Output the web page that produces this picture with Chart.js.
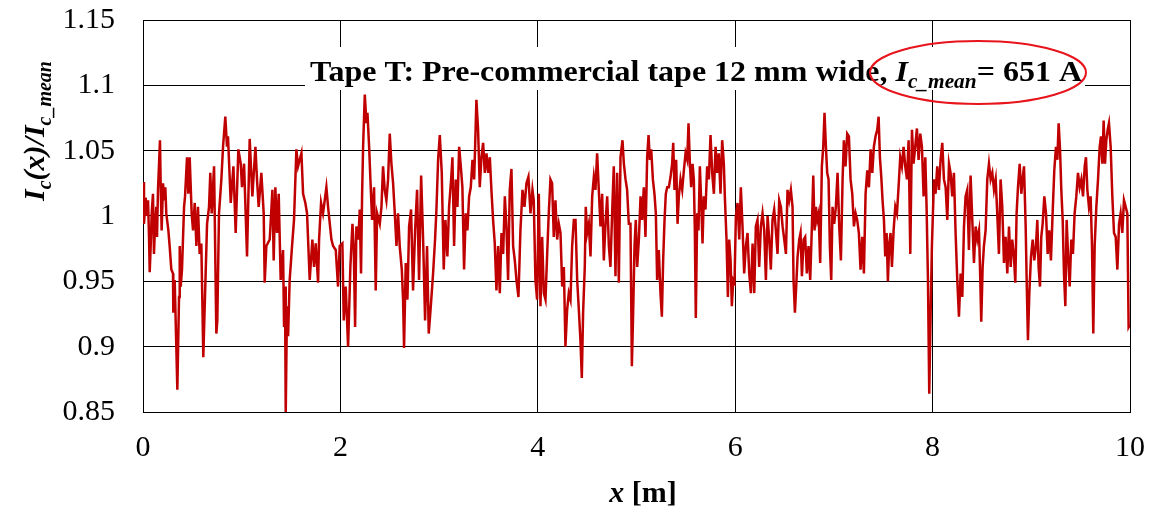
<!DOCTYPE html>
<html><head><meta charset="utf-8">
<script src="https://cdn.jsdelivr.net/npm/chart.js@4.4.1/dist/chart.umd.min.js"></script>
<style>html,body{margin:0;padding:0;background:#fff;overflow:hidden}</style>
</head><body>
<canvas id="c" width="1173" height="508"></canvas>
<script>
// ---- data (x in m, Ic(x)/Ic_mean) ----
const seg0to2 = [[0.000,1.026],[0.010,0.994],[0.027,1.014],[0.041,1.000],[0.051,1.012],[0.061,0.984],[0.068,0.957],[0.078,0.977],[0.088,1.002],[0.101,1.017],[0.111,0.971],[0.122,0.992],[0.135,1.007],[0.142,0.984],[0.152,1.020],[0.172,1.058],[0.179,1.025],[0.189,0.989],[0.203,1.025],[0.216,1.012],[0.226,1.022],[0.236,1.002],[0.257,0.989],[0.270,0.977],[0.287,0.959],[0.304,0.956],[0.307,0.926],[0.321,0.951],[0.348,0.867],[0.365,0.938],[0.372,0.977],[0.382,0.946],[0.395,0.959],[0.416,1.007],[0.426,1.015],[0.446,1.045],[0.459,1.017],[0.473,1.045],[0.493,1.002],[0.507,0.989],[0.524,1.010],[0.541,0.977],[0.557,1.007],[0.574,0.971],[0.591,0.979],[0.611,0.892],[0.628,0.938],[0.649,0.994],[0.669,1.007],[0.682,1.033],[0.696,1.002],[0.720,1.038],[0.743,0.910],[0.753,0.920],[0.770,1.002],[0.794,1.028],[0.811,1.053],[0.834,1.076],[0.851,1.053],[0.861,1.061],[0.889,1.010],[0.916,1.038],[0.939,0.987],[0.966,1.051],[0.990,1.040],[1.003,1.022],[1.024,1.040],[1.054,0.969],[1.081,1.059],[1.108,1.015],[1.139,1.053],[1.155,1.028],[1.172,1.007],[1.199,1.033],[1.223,1.002],[1.233,0.949],[1.250,0.977],[1.284,0.982],[1.311,1.020],[1.324,0.966],[1.341,1.022],[1.358,0.987],[1.375,1.017],[1.395,0.951],[1.419,0.974],[1.429,0.915],[1.439,0.946],[1.446,0.849],[1.459,0.931],[1.470,0.908],[1.486,0.951],[1.510,0.977],[1.530,0.997],[1.554,1.051],[1.571,1.038],[1.605,1.048],[1.622,1.017],[1.645,1.010],[1.662,1.002],[1.689,0.951],[1.716,0.982],[1.733,0.961],[1.750,0.979],[1.774,0.949],[1.784,0.982],[1.804,1.010],[1.824,1.002],[1.858,1.022],[1.875,1.007],[1.909,0.982],[1.926,0.977],[1.953,0.974],[1.976,0.946],[1.993,0.977]];
const seg2to4 = [[2.020,0.979],[2.034,0.920],[2.054,0.946],[2.078,0.900],[2.101,0.961],[2.122,0.994],[2.135,0.977],[2.149,0.915],[2.162,0.992],[2.182,0.982],[2.196,1.005],[2.209,0.956],[2.220,1.017],[2.230,1.053],[2.247,1.093],[2.264,1.071],[2.274,1.079],[2.291,1.053],[2.304,1.028],[2.321,0.997],[2.341,1.022],[2.358,0.943],[2.372,1.002],[2.399,0.994],[2.416,1.007],[2.432,1.038],[2.449,1.020],[2.466,1.012],[2.483,1.028],[2.500,1.063],[2.517,1.040],[2.534,1.025],[2.551,1.002],[2.568,0.977],[2.584,1.002],[2.601,0.977],[2.622,0.959],[2.635,0.936],[2.645,0.899],[2.662,0.964],[2.679,0.936],[2.696,0.992],[2.716,1.005],[2.736,0.943],[2.757,0.989],[2.777,1.020],[2.797,0.951],[2.818,1.031],[2.838,0.982],[2.858,0.920],[2.878,0.977],[2.895,0.910],[2.916,0.931],[2.939,0.956],[2.959,0.982],[2.973,1.005],[2.990,1.043],[3.007,1.062],[3.027,1.033],[3.047,0.959],[3.064,0.997],[3.084,0.969],[3.101,1.007],[3.122,1.028],[3.135,1.045],[3.152,0.977],[3.169,1.028],[3.186,1.007],[3.203,1.053],[3.220,1.038],[3.236,1.022],[3.253,0.959],[3.270,1.002],[3.287,0.989],[3.304,1.015],[3.321,1.022],[3.338,1.043],[3.355,1.028],[3.365,1.053],[3.378,1.089],[3.395,1.066],[3.412,1.022],[3.429,1.045],[3.446,1.056],[3.463,1.033],[3.480,1.048],[3.497,1.033],[3.514,1.045],[3.530,1.020],[3.547,0.997],[3.564,0.979],[3.581,0.943],[3.598,0.977],[3.615,0.941],[3.632,0.987],[3.649,0.971],[3.666,1.015],[3.682,0.992],[3.699,0.951],[3.716,1.020],[3.733,1.036],[3.750,0.977],[3.767,0.966],[3.784,0.951],[3.804,0.938],[3.824,0.989],[3.845,1.020],[3.865,1.007],[3.885,1.025],[3.905,1.030],[3.926,1.002],[3.946,1.020],[3.959,1.012],[3.976,0.951],[3.993,0.936]];
const seg4to6 = [[4.010,1.017],[4.027,0.931],[4.044,0.984],[4.061,0.941],[4.078,0.936],[4.095,0.971],[4.111,1.002],[4.128,1.028],[4.145,1.025],[4.162,0.984],[4.179,1.012],[4.196,0.982],[4.213,0.994],[4.230,0.987],[4.247,0.946],[4.264,0.961],[4.280,0.900],[4.297,0.928],[4.314,0.941],[4.331,0.936],[4.348,0.977],[4.365,0.997],[4.382,0.997],[4.399,0.951],[4.416,0.928],[4.432,0.905],[4.446,0.876],[4.459,0.926],[4.476,0.961],[4.486,1.007],[4.500,0.987],[4.517,0.994],[4.534,0.969],[4.551,1.015],[4.568,1.030],[4.584,1.020],[4.601,1.048],[4.618,1.020],[4.635,0.992],[4.652,1.017],[4.669,0.966],[4.686,0.994],[4.703,1.015],[4.720,0.977],[4.736,0.961],[4.753,1.002],[4.770,1.038],[4.787,0.954],[4.804,1.033],[4.821,0.949],[4.838,1.045],[4.858,1.058],[4.872,1.040],[4.889,1.028],[4.905,1.020],[4.922,0.994],[4.939,0.994],[4.953,0.885],[4.966,0.926],[4.980,0.977],[4.993,0.997],[5.007,0.961],[5.024,0.982],[5.041,1.015],[5.057,0.997],[5.074,1.022],[5.091,0.984],[5.108,1.045],[5.122,1.062],[5.135,1.043],[5.149,1.051],[5.166,1.028],[5.182,1.017],[5.196,1.002],[5.209,0.951],[5.226,0.974],[5.243,0.941],[5.257,0.923],[5.270,0.966],[5.284,0.997],[5.297,1.017],[5.311,1.022],[5.328,1.022],[5.345,1.030],[5.361,1.040],[5.372,1.056],[5.385,1.020],[5.402,1.043],[5.416,0.994],[5.429,1.015],[5.446,1.028],[5.463,1.020],[5.480,1.035],[5.497,1.048],[5.514,1.043],[5.527,1.071],[5.541,1.040],[5.554,1.022],[5.568,1.040],[5.581,1.028],[5.591,0.989],[5.601,0.922],[5.615,1.002],[5.628,0.989],[5.642,1.038],[5.655,1.012],[5.669,0.979],[5.682,1.015],[5.699,1.005],[5.716,1.038],[5.733,1.028],[5.750,1.062],[5.767,1.033],[5.784,1.017],[5.801,1.053],[5.818,1.033],[5.834,1.048],[5.851,1.017],[5.868,1.058],[5.885,1.040],[5.895,1.015],[5.912,0.982],[5.926,0.938],[5.939,0.982],[5.953,0.966],[5.966,0.931],[5.980,0.951],[5.993,0.949]];
const seg6to8 = [[6.007,1.000],[6.024,1.010],[6.041,0.982],[6.057,1.022],[6.074,0.992],[6.091,0.956],[6.108,0.977],[6.125,0.987],[6.142,0.956],[6.159,0.941],[6.176,0.979],[6.193,0.941],[6.209,0.992],[6.226,0.997],[6.243,0.961],[6.260,0.992],[6.277,1.002],[6.294,0.989],[6.311,0.951],[6.328,1.000],[6.345,0.982],[6.361,0.959],[6.378,0.997],[6.395,1.005],[6.412,0.989],[6.429,0.971],[6.446,1.012],[6.463,1.007],[6.480,0.992],[6.497,0.982],[6.514,0.971],[6.530,1.020],[6.547,1.012],[6.564,1.020],[6.581,1.007],[6.591,0.951],[6.605,0.926],[6.618,0.946],[6.632,0.969],[6.649,0.982],[6.662,0.987],[6.676,0.954],[6.693,0.982],[6.709,0.984],[6.726,0.956],[6.743,0.977],[6.760,0.951],[6.777,0.992],[6.791,1.031],[6.804,0.989],[6.818,1.007],[6.831,0.997],[6.845,1.002],[6.861,0.964],[6.878,1.038],[6.892,1.053],[6.905,1.079],[6.919,1.053],[6.932,1.033],[6.946,1.028],[6.959,0.977],[6.973,0.951],[6.986,1.007],[7.003,0.994],[7.020,1.007],[7.037,1.033],[7.054,0.992],[7.071,0.966],[7.088,1.028],[7.101,1.058],[7.118,1.038],[7.135,1.063],[7.152,1.061],[7.169,1.028],[7.186,1.017],[7.203,0.992],[7.220,1.002],[7.236,0.997],[7.253,0.987],[7.270,0.959],[7.287,0.984],[7.304,0.956],[7.321,1.017],[7.338,1.035],[7.355,1.022],[7.372,1.051],[7.389,1.033],[7.405,1.053],[7.422,1.061],[7.439,1.066],[7.453,1.076],[7.466,1.045],[7.480,1.030],[7.493,1.012],[7.507,0.997],[7.520,0.969],[7.534,0.987],[7.547,0.950],[7.561,0.979],[7.574,0.987],[7.588,0.961],[7.605,0.989],[7.622,1.007],[7.639,1.002],[7.655,1.022],[7.672,1.045],[7.689,1.038],[7.706,1.053],[7.723,1.038],[7.740,1.028],[7.757,1.058],[7.774,0.971],[7.791,1.066],[7.807,1.040],[7.824,1.053],[7.841,1.067],[7.858,1.043],[7.875,1.063],[7.892,1.053],[7.909,1.015],[7.926,1.045],[7.939,1.007],[7.953,0.951],[7.966,0.864],[7.980,0.926],[7.993,0.977]];
const seg8to10 = [[8.014,1.028],[8.030,1.017],[8.047,1.038],[8.064,1.020],[8.081,1.043],[8.098,1.056],[8.115,1.028],[8.132,1.022],[8.149,0.997],[8.166,1.040],[8.182,1.033],[8.199,1.015],[8.216,1.033],[8.233,0.987],[8.250,0.951],[8.267,0.923],[8.284,0.956],[8.301,0.938],[8.318,0.992],[8.334,1.015],[8.351,1.020],[8.368,0.974],[8.385,1.031],[8.402,0.997],[8.419,0.964],[8.436,0.992],[8.453,0.982],[8.470,0.989],[8.480,0.961],[8.493,0.919],[8.507,0.961],[8.520,0.977],[8.537,0.989],[8.554,1.028],[8.571,1.040],[8.588,1.028],[8.605,1.033],[8.622,1.020],[8.639,1.028],[8.655,1.002],[8.672,0.971],[8.689,1.028],[8.706,1.007],[8.723,0.964],[8.740,0.984],[8.757,0.956],[8.774,0.992],[8.791,0.961],[8.807,0.982],[8.824,0.969],[8.838,0.949],[8.851,1.002],[8.865,1.022],[8.882,1.040],[8.899,1.017],[8.912,1.028],[8.926,1.038],[8.943,0.992],[8.953,0.951],[8.966,0.905],[8.980,0.941],[8.997,0.969],[9.014,0.982],[9.030,0.966],[9.047,0.977],[9.061,0.997],[9.074,0.961],[9.088,0.946],[9.101,0.984],[9.115,0.994],[9.132,1.015],[9.149,1.002],[9.166,0.971],[9.182,0.989],[9.199,0.966],[9.216,1.002],[9.233,1.035],[9.250,1.053],[9.264,1.043],[9.277,1.071],[9.291,1.051],[9.304,1.020],[9.318,0.997],[9.331,0.956],[9.345,0.931],[9.358,0.997],[9.372,0.971],[9.389,0.946],[9.405,0.982],[9.422,0.971],[9.439,1.002],[9.456,1.015],[9.473,1.033],[9.490,1.022],[9.507,1.028],[9.524,1.015],[9.541,1.038],[9.554,1.045],[9.568,1.020],[9.584,1.007],[9.601,1.015],[9.615,0.977],[9.628,0.910],[9.642,0.977],[9.659,1.007],[9.676,1.028],[9.693,1.053],[9.706,1.061],[9.720,1.040],[9.733,1.073],[9.747,1.040],[9.760,1.058],[9.774,1.066],[9.787,1.071],[9.804,1.053],[9.821,1.015],[9.838,0.987],[9.855,0.984],[9.872,0.959],[9.889,0.994],[9.905,1.002],[9.922,0.987],[9.939,1.012],[9.956,1.007],[9.973,1.002],[9.986,0.915],[10.000,0.917]];

const yTickValues = [0.85, 0.9, 0.95, 1, 1.05, 1.1, 1.15];
const yTickLabels = ['0.85', '0.9', '0.95', '1', '1.05', '1.1', '1.15'];
const xTickValues = [0, 2, 4, 6, 8, 10];
const xTickLabels = ['0', '2', '4', '6', '8', '10'];

const titleParts = [
  {t: 'Tape T: Pre-commercial tape 12 mm wide, ', st: 'bold'},
  {t: 'I', st: 'italic bold'},
  {t: 'c_mean', st: 'italic bold', sub: true},
  {t: '= 651 A', st: 'bold'}
];
const yTitleParts = [
  {t: 'I', st: 'italic bold'},
  {t: 'c', st: 'italic bold', sub: true},
  {t: '(x)/', st: 'italic bold'},
  {t: 'I', st: 'italic bold'},
  {t: 'c_mean', st: 'italic bold', sub: true}
];
const xTitleParts = [
  {t: 'x', st: 'italic bold'},
  {t: ' [m]', st: 'bold'}
];

const FONT = '"Liberation Serif", "Times New Roman", serif';
const allPoints = [].concat(seg0to2, seg2to4, seg4to6, seg6to8, seg8to10);

function fontOf(p, size, subSize) {
  return p.st + ' ' + (p.sub ? subSize : size) + 'px ' + FONT;
}
function measureParts(ctx, parts, size, subSize) {
  let w = 0;
  for (const p of parts) { ctx.font = fontOf(p, size, subSize); w += ctx.measureText(p.t).width; }
  return w;
}
function drawParts(ctx, parts, size, subSize, subShift) {
  let x = 0;
  ctx.textBaseline = 'alphabetic';
  ctx.textAlign = 'left';
  for (const p of parts) {
    ctx.font = fontOf(p, size, subSize);
    ctx.fillText(p.t, x, p.sub ? subShift : 0);
    x += ctx.measureText(p.t).width;
  }
}

const annotations = {
  id: 'annotations',
  afterDatasetsDraw(chart) {
    const ctx = chart.ctx;
    ctx.save();
    // white box behind title
    ctx.fillStyle = '#fff';
    ctx.fillRect(305, 47, 780, 43);
    // title text
    ctx.fillStyle = '#000';
    const w = measureParts(ctx, titleParts, 30, 20);
    ctx.save();
    ctx.translate(310, 81);
    ctx.scale(772 / w, 1);
    drawParts(ctx, titleParts, 30, 20, 7);
    ctx.restore();
    // red ellipse
    ctx.beginPath();
    ctx.ellipse(978, 72.5, 108, 31.5, 0, 0, Math.PI * 2);
    ctx.strokeStyle = '#e8141c';
    ctx.lineWidth = 2;
    ctx.stroke();
    // y axis title
    const wy = measureParts(ctx, yTitleParts, 30, 20);
    ctx.save();
    ctx.translate(44, 131);
    ctx.rotate(-Math.PI / 2);
    ctx.translate(-wy / 2, 0);
    drawParts(ctx, yTitleParts, 30, 20, 7);
    ctx.restore();
    // x axis title
    const wx = measureParts(ctx, xTitleParts, 30, 20);
    ctx.save();
    ctx.translate(643 - wx / 2, 502);
    drawParts(ctx, xTitleParts, 30, 20, 7);
    ctx.restore();
    ctx.restore();
  }
};

new Chart(document.getElementById('c'), {
  type: 'line',
  data: {
    datasets: [{
      data: allPoints,
      borderColor: '#c00000',
      borderWidth: 2.5,
      pointRadius: 0,
      tension: 0,
      fill: false
    }]
  },
  options: {
    responsive: false,
    animation: false,
    devicePixelRatio: 1,
    layout: { padding: { top: 20, right: 43, left: 0, bottom: 0 } },
    plugins: { legend: { display: false }, tooltip: { enabled: false }, title: { display: false } },
    scales: {
      x: {
        type: 'linear', min: 0, max: 10,
        afterBuildTicks: s => { s.ticks = xTickValues.map(v => ({value: v})); },
        afterFit: s => { s.height = 96; s.paddingLeft = 0; s.paddingRight = 0; },
        ticks: {
          callback: (v) => { const i = xTickValues.indexOf(v); return i >= 0 ? xTickLabels[i] : ''; },
          font: { family: FONT, size: 30 }, color: '#000', padding: 18, maxRotation: 0
        },
        grid: { color: '#000', lineWidth: 1, drawTicks: false },
        border: { color: '#000', width: 1 }
      },
      y: {
        type: 'linear', min: 0.85, max: 1.15,
        afterBuildTicks: s => { s.ticks = yTickValues.map(v => ({value: v})); },
        afterFit: s => { s.width = 143; s.paddingTop = 0; s.paddingBottom = 0; },
        ticks: {
          callback: (v) => { const i = yTickValues.findIndex(t => Math.abs(t - v) < 1e-9); return i >= 0 ? yTickLabels[i] : ''; },
          font: { family: FONT, size: 30 }, color: '#000', padding: 28
        },
        grid: { color: '#000', lineWidth: 1, drawTicks: false },
        border: { color: '#000', width: 1 }
      }
    }
  },
  plugins: [annotations]
});
</script>
</body></html>
